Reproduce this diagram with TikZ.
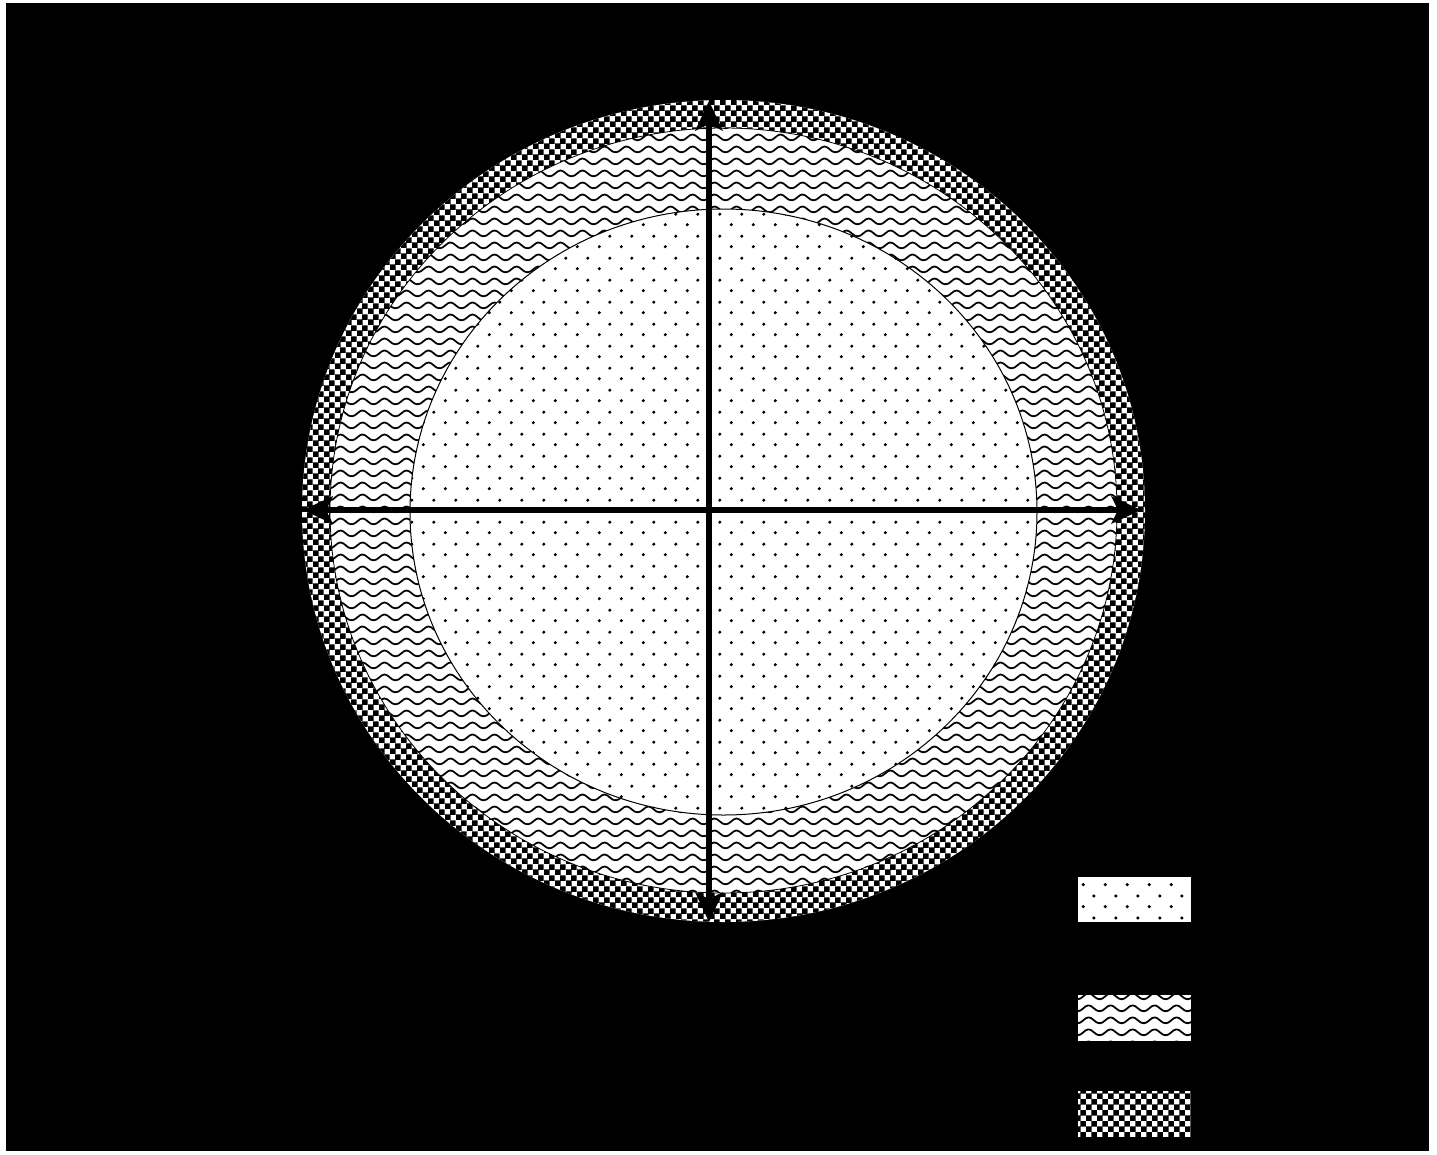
\documentclass[tikz,border=0pt]{standalone}
\usetikzlibrary{patterns}
\pgfdeclarepatternformonly{mydots}{\pgfqpoint{0pt}{0pt}}{\pgfqpoint{22pt}{22pt}}{\pgfqpoint{22pt}{22pt}}{%
  \pgfpathcircle{\pgfqpoint{5.5pt}{5.5pt}}{1.8pt}%
  \pgfpathcircle{\pgfqpoint{16.5pt}{16.5pt}}{1.8pt}%
  \pgfusepath{fill}}
\pgfdeclarepatternformonly{mywaves}{\pgfqpoint{0pt}{0pt}}{\pgfqpoint{22pt}{11.6pt}}{\pgfqpoint{22pt}{11.6pt}}{%
  \pgfsetlinewidth{1.8pt}%
  \pgfsetroundjoin
  \pgfpathmoveto{\pgfqpoint{-11pt}{8.8pt}}%
  \pgfpathcosine{\pgfqpoint{5.5pt}{-3pt}}\pgfpathsine{\pgfqpoint{5.5pt}{-3pt}}%
  \pgfpathcosine{\pgfqpoint{5.5pt}{3pt}}\pgfpathsine{\pgfqpoint{5.5pt}{3pt}}%
  \pgfpathcosine{\pgfqpoint{5.5pt}{-3pt}}\pgfpathsine{\pgfqpoint{5.5pt}{-3pt}}%
  \pgfpathcosine{\pgfqpoint{5.5pt}{3pt}}\pgfpathsine{\pgfqpoint{5.5pt}{3pt}}%
  \pgfusepath{stroke}}
\pgfdeclarepatternformonly{mychecker}{\pgfqpoint{0pt}{0pt}}{\pgfqpoint{11.2pt}{11.2pt}}{\pgfqpoint{11.2pt}{11.2pt}}{%
  \pgfpathrectangle{\pgfqpoint{0pt}{0pt}}{\pgfqpoint{5.9pt}{5.9pt}}%
  \pgfpathrectangle{\pgfqpoint{5.6pt}{5.6pt}}{\pgfqpoint{5.9pt}{5.9pt}}%
  \pgfusepath{fill}}
\tikzset{
  dotfill/.style={preaction={fill=white},pattern=mydots,pattern color=black},
  wavefill/.style={preaction={fill=white},pattern=mywaves,pattern color=black},
  checkfill/.style={preaction={fill=white},pattern=mychecker,pattern color=black},
  axisline/.style={line width=6.5pt,shorten >=18pt,shorten <=18pt},
  headfill/.style={fill=black},
}
\begin{document}
\begin{tikzpicture}[x=1pt,y=-1pt]
\useasboundingbox (0,0) rectangle (1437,1154);
\fill[white] (0,0) rectangle (1437,1154);
\fill[black] (6,3) rectangle (1429,1151);
% layers
\path[checkfill] (723.5,511) ellipse [x radius=421.5,y radius=411];
\path[wavefill,draw=black,line width=0.8pt] (723.5,510.5) ellipse [x radius=393.5,y radius=382.5];
\path[dotfill,draw=black,line width=1pt] (723.5,512) ellipse [x radius=313.5,y radius=303];
% axes
\coordinate (top) at (709,101);
\coordinate (bot) at (709,922);
\coordinate (lft) at (303,510);
\coordinate (rgt) at (1141,510);
\draw[axisline] (lft) -- (rgt);
\draw[axisline] (top) -- (bot);
\fill[headfill] (rgt) -- ++(-30,-14) -- ++(7,14) -- ++(-7,14) -- cycle;
\fill[headfill] (lft) -- ++(30,-14) -- ++(-7,14) -- ++(7,14) -- cycle;
\fill[headfill] (top) -- ++(-14,30) -- ++(14,-7) -- ++(14,7) -- cycle;
\fill[headfill] (bot) -- ++(-14,-30) -- ++(14,7) -- ++(14,-7) -- cycle;
% legend
\path[dotfill] (1078,877) rectangle (1191,922);
\path[wavefill] (1078,995) rectangle (1191,1041);
\path[checkfill] (1078,1091) rectangle (1191,1137);
\end{tikzpicture}
\end{document}
